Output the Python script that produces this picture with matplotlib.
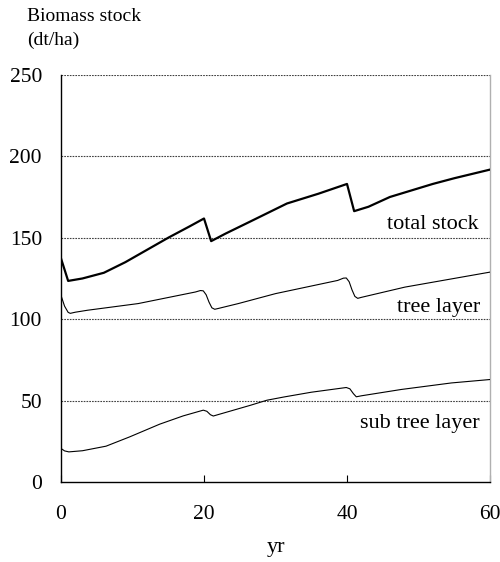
import numpy as np
import matplotlib
matplotlib.use("Agg")
import matplotlib.pyplot as plt

plt.rcParams['font.family'] = ['Liberation Serif', 'DejaVu Serif']

# values (year, dt/ha)
total_yr = [0, 1, 3, 6, 9, 12, 15, 18, 20, 21, 23, 26.5, 31.6, 36, 40, 41, 43, 46, 52, 55, 60]
total_val = [137.3, 123.5, 125, 128.5, 135, 142.5, 150, 157, 161.8, 147.9, 152.5, 160, 171, 177, 183, 166.3, 169, 175, 183, 186.5, 191.8]

tree_yr = [0, 0.5, 1.0, 1.3, 2, 3.7, 10.8, 18.8, 19.5, 19.9, 20.3, 20.7, 21.1, 21.5, 22, 24.8, 30, 38.7, 39.5, 39.9, 40.3, 40.7, 41.1, 41.5, 42, 48.1, 60]
tree_val = [114.6, 108, 104.2, 103.6, 104.3, 105.5, 109.6, 116.7, 117.6, 117.4, 115, 110.5, 107, 106.1, 106.6, 109.6, 115.7, 123.8, 125.2, 125.3, 123, 118, 114, 112.8, 113.4, 119.7, 128.9]

sub_yr = [0, 0.5, 1.1, 3.0, 6.3, 9.6, 13.8, 17.1, 19.9, 20.4, 20.9, 21.3, 22, 26.5, 28.8, 31.2, 35, 39.9, 40.4, 40.9, 41.3, 42, 47.6, 54.6, 60]
sub_val = [20.7, 19.2, 18.6, 19.3, 22.1, 27.8, 35.6, 40.7, 44.2, 43.5, 41.4, 40.6, 41.5, 47.2, 50.3, 52.3, 55.2, 58.1, 57.3, 54.3, 52.4, 53.0, 56.9, 60.9, 63.0]

x_ticks = [0, 20, 40, 60]
y_ticks = [0, 50, 100, 150, 200, 250]

fig = plt.figure(figsize=(5.0, 5.62), dpi=100)
ax = fig.add_axes([0.122, 0.142, 0.858, 0.725])

for yv in y_ticks[1:]:
    ax.axhline(yv, color='#404040', lw=0.8, ls=(0, (1.5, 1.0)), zorder=1)

ax.plot(total_yr, total_val, color='black', lw=1.6, zorder=3)
ax.plot(tree_yr, tree_val, color='black', lw=0.8, zorder=3)
ax.plot(sub_yr, sub_val, color='black', lw=0.8, zorder=3)

ax.set_xlim(0, 60)
ax.set_ylim(0, 250)
ax.set_xticks(x_ticks)
ax.set_yticks(y_ticks)
ax.tick_params(axis='x', direction='in', length=5, width=0.8, pad=16.5, labelsize=15.5)
ax.tick_params(axis='y', length=0, pad=13.7, labelsize=15.5)

ax.spines['left'].set_linewidth(1.0)
ax.spines['bottom'].set_linewidth(1.0)
ax.spines['top'].set_visible(False)
ax.spines['right'].set_color('#b0b0b0')
ax.spines['right'].set_linewidth(1.0)

ax.set_xlabel('yr', fontsize=16, labelpad=10)

ax.text(58.4, 155.5, 'total stock', ha='right', va='baseline', fontsize=16)
ax.text(58.6, 104.4, 'tree layer', ha='right', va='baseline', fontsize=16)
ax.text(58.5, 33.0, 'sub tree layer', ha='right', va='baseline', fontsize=16)

fig.text(27 / 500, 1 - 21 / 562, 'Biomass stock', ha='left', va='baseline', fontsize=14)
fig.text(27 / 500, 1 - 45 / 562, '(dt/ha)', ha='left', va='baseline', fontsize=14)

fig.savefig('out.png', dpi=100)
